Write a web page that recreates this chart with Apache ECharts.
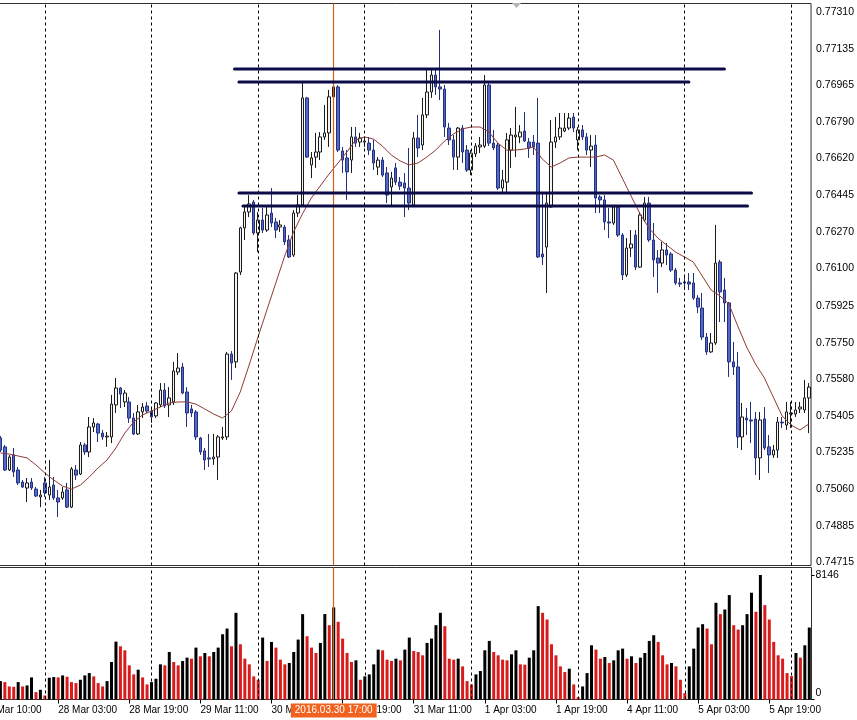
<!DOCTYPE html>
<html><head><meta charset="utf-8">
<script src="https://cdn.jsdelivr.net/npm/echarts@6/dist/echarts.min.js"></script>
<style>html,body{margin:0;padding:0;background:#fff;overflow:hidden;width:857px;height:720px;position:relative}
#c{position:absolute;left:-30px;top:0;width:887px;height:720px}</style>
</head><body><div id="c"></div>
<script>
// ---- sessions (trading days, first/last hour of the H1 bars shown) ----
const sessions = [
  ['2016.03.25', 10, 23], ['2016.03.28', 0, 23], ['2016.03.29', 0, 23],
  ['2016.03.30', 0, 23], ['2016.03.31', 0, 23], ['2016.04.01', 0, 23],
  ['2016.04.04', 0, 23], ['2016.04.05', 0, 23], ['2016.04.06', 0, 4]
];
const firstBarTime = '2016.03.25 14:00';
const timeLabels = ['2016.03.25 10:00','2016.03.28 03:00','2016.03.28 19:00','2016.03.29 11:00',
  '2016.03.30 03:00','2016.03.30 19:00','2016.03.31 11:00','2016.04.01 03:00','2016.04.01 19:00',
  '2016.04.04 11:00','2016.04.05 03:00','2016.04.05 19:00'];
const crosshairTime = '2016.03.30 17:00';
const priceTicks = [0.77310,0.77135,0.76965,0.76790,0.76620,0.76445,0.76270,0.76100,
  0.75925,0.75750,0.75580,0.75405,0.75235,0.75060,0.74885,0.74715];
const volumeTicks = [0, 8146];

// ---- candles: [open, close, low, high] ----
const ohlc = [
[0.75301,0.75244,0.75235,0.75310],[0.75259,0.75150,0.75145,0.75268],[0.75150,0.75211,0.75145,0.75221],
[0.75221,0.75141,0.75117,0.75254],[0.75150,0.75089,0.75079,0.75164],[0.75093,0.75070,0.75065,0.75103],
[0.75065,0.75089,0.74999,0.75112],[0.75093,0.75065,0.75056,0.75112],[0.75060,0.75027,0.75023,0.75070],
[0.75023,0.75032,0.74975,0.75056],[0.75089,0.75042,0.75023,0.75117],[0.75032,0.75070,0.75009,0.75197],
[0.75079,0.75018,0.75009,0.75117],[0.75018,0.74999,0.74928,0.75056],[0.75018,0.75046,0.75009,0.75070],
[0.75056,0.74975,0.74970,0.75089],[0.74975,0.75155,0.74970,0.75164],[0.75150,0.75126,0.75103,0.75173],
[0.75131,0.75268,0.75126,0.75282],[0.75268,0.75235,0.75221,0.75277],[0.75235,0.75353,0.75211,0.75400],
[0.75353,0.75372,0.75329,0.75395],[0.75367,0.75324,0.75282,0.75372],[0.75324,0.75306,0.75292,0.75339],
[0.75306,0.75310,0.75259,0.75329],[0.75306,0.75461,0.75277,0.75504],[0.75457,0.75537,0.75419,0.75584],
[0.75537,0.75508,0.75442,0.75541],[0.75471,0.75513,0.75447,0.75527],[0.75471,0.75395,0.75372,0.75494],
[0.75395,0.75320,0.75315,0.75419],[0.75320,0.75424,0.75315,0.75457],[0.75424,0.75447,0.75395,0.75466],
[0.75452,0.75428,0.75419,0.75471],[0.75428,0.75400,0.75372,0.75447],[0.75405,0.75466,0.75395,0.75471],
[0.75457,0.75527,0.75447,0.75560],[0.75527,0.75452,0.75442,0.75560],[0.75457,0.75490,0.75400,0.75541],
[0.75471,0.75617,0.75457,0.75660],[0.75612,0.75631,0.75598,0.75702],[0.75636,0.75513,0.75508,0.75655],
[0.75518,0.75419,0.75353,0.75541],[0.75438,0.75419,0.75400,0.75457],[0.75424,0.75306,0.75292,0.75433],
[0.75301,0.75235,0.75221,0.75306],[0.75240,0.75197,0.75150,0.75254],[0.75207,0.75202,0.75164,0.75320],
[0.75202,0.75211,0.75174,0.75320],[0.75211,0.75306,0.75103,0.75315],[0.75301,0.75306,0.75292,0.75353],
[0.75306,0.75697,0.75292,0.75707],[0.75697,0.75655,0.75575,0.75711],[0.75660,0.76079,0.75631,0.76084],
[0.76084,0.76292,0.76070,0.76297],[0.76292,0.76367,0.76235,0.76391],[0.76367,0.76405,0.76343,0.76447],
[0.76414,0.76268,0.76258,0.76424],[0.76268,0.76329,0.76178,0.76367],[0.76329,0.76282,0.76268,0.76386],
[0.76282,0.76353,0.76273,0.76391],[0.76362,0.76315,0.76296,0.76480],[0.76320,0.76282,0.76244,0.76339],
[0.76296,0.76306,0.76273,0.76329],[0.76296,0.76226,0.76211,0.76306],[0.76235,0.76155,0.76150,0.76258],
[0.76164,0.76362,0.76155,0.76376],[0.76362,0.76400,0.76343,0.76447],[0.76400,0.76905,0.76391,0.76975],
[0.76905,0.76626,0.76622,0.76910],[0.76589,0.76622,0.76527,0.76650],[0.76626,0.76650,0.76575,0.76740],
[0.76650,0.76721,0.76612,0.76744],[0.76721,0.76740,0.76707,0.76872],[0.76740,0.76910,0.76674,0.76943],
[0.76910,0.76957,0.76895,0.77084],[0.76957,0.76659,0.76650,0.76966],[0.76655,0.76612,0.76551,0.76674],
[0.76622,0.76556,0.76424,0.76659],[0.76612,0.76721,0.76551,0.76768],[0.76721,0.76692,0.76674,0.76768],
[0.76697,0.76716,0.76674,0.76740],[0.76697,0.76702,0.76674,0.76721],[0.76692,0.76659,0.76636,0.76721],
[0.76659,0.76598,0.76565,0.76707],[0.76579,0.76612,0.76541,0.76626],[0.76612,0.76541,0.76532,0.76626],
[0.76551,0.76447,0.76409,0.76579],[0.76485,0.76527,0.76391,0.76556],[0.76575,0.76508,0.76494,0.76598],
[0.76508,0.76489,0.76471,0.76532],[0.76504,0.76480,0.76343,0.76551],[0.76480,0.76409,0.76376,0.76669],
[0.76400,0.76716,0.76391,0.76744],[0.76716,0.76669,0.76626,0.76825],[0.76683,0.76825,0.76659,0.76905],
[0.76825,0.76933,0.76810,0.77046],[0.76933,0.77013,0.76905,0.77037],[0.77013,0.76957,0.76919,0.77037],
[0.76957,0.76947,0.76895,0.77226],[0.76947,0.76768,0.76721,0.76966],[0.76763,0.76707,0.76683,0.76787],
[0.76707,0.76626,0.76565,0.76730],[0.76626,0.76763,0.76565,0.76768],[0.76763,0.76650,0.76598,0.76777],
[0.76659,0.76565,0.76556,0.76683],[0.76565,0.76645,0.76541,0.76659],[0.76641,0.76678,0.76626,0.76692],
[0.76674,0.76683,0.76645,0.76721],[0.76678,0.76966,0.76669,0.77013],[0.76966,0.76692,0.76678,0.76975],
[0.76692,0.76669,0.76659,0.76754],[0.76683,0.76480,0.76471,0.76692],[0.76480,0.76518,0.76461,0.76565],
[0.76508,0.76707,0.76461,0.76740],[0.76659,0.76730,0.76575,0.76763],[0.76721,0.76730,0.76626,0.76863],
[0.76721,0.76744,0.76692,0.76777],[0.76749,0.76702,0.76697,0.76839],[0.76697,0.76669,0.76622,0.76716],
[0.76697,0.76674,0.76636,0.76730],[0.76692,0.76155,0.76150,0.76905],[0.76169,0.76155,0.76117,0.76457],
[0.76202,0.76409,0.75985,0.76461],[0.76391,0.76697,0.76386,0.76801],[0.76697,0.76721,0.76669,0.76815],
[0.76721,0.76763,0.76707,0.76834],[0.76749,0.76763,0.76744,0.76834],[0.76763,0.76810,0.76754,0.76834],
[0.76815,0.76763,0.76744,0.76834],[0.76707,0.76754,0.76659,0.76768],[0.76754,0.76721,0.76707,0.76777],
[0.76721,0.76659,0.76636,0.76740],[0.76659,0.76678,0.76579,0.76730],[0.76683,0.76433,0.76362,0.76730],
[0.76438,0.76424,0.76362,0.76447],[0.76424,0.76320,0.76282,0.76447],[0.76320,0.76315,0.76244,0.76386],
[0.76315,0.76391,0.76306,0.76400],[0.76391,0.76258,0.76249,0.76400],[0.76258,0.76070,0.76046,0.76268],
[0.76070,0.76197,0.76060,0.76244],[0.76197,0.76216,0.76155,0.76282],[0.76258,0.76107,0.76093,0.76282],
[0.76107,0.76353,0.76103,0.76367],[0.76329,0.76409,0.76320,0.76438],[0.76409,0.76235,0.76226,0.76438],
[0.76235,0.76141,0.76060,0.76315],[0.76150,0.76126,0.75985,0.76188],[0.76126,0.76188,0.76107,0.76226],
[0.76188,0.76164,0.76117,0.76221],[0.76169,0.76093,0.76084,0.76178],[0.76093,0.76032,0.76023,0.76103],
[0.76032,0.76027,0.76013,0.76056],[0.76037,0.76032,0.75999,0.76070],[0.76037,0.76027,0.75999,0.76079],
[0.76032,0.75961,0.75952,0.76079],[0.75961,0.75919,0.75890,0.75975],[0.75914,0.75777,0.75763,0.75985],
[0.75777,0.75707,0.75693,0.75796],[0.75707,0.75749,0.75702,0.75796],[0.75749,0.76126,0.75740,0.76306],
[0.76131,0.75990,0.75848,0.76141],[0.75999,0.75938,0.75848,0.76056],[0.75938,0.75660,0.75589,0.75942],
[0.75660,0.75636,0.75598,0.75754],[0.75636,0.75306,0.75254,0.75707],[0.75306,0.75400,0.75244,0.75466],
[0.75395,0.75386,0.75315,0.75442],[0.75386,0.75381,0.75277,0.75471],[0.75391,0.75207,0.75126,0.75424],
[0.75207,0.75386,0.75103,0.75424],[0.75391,0.75254,0.75244,0.75447],[0.75259,0.75221,0.75136,0.75315],
[0.75221,0.75244,0.75207,0.75268],[0.75244,0.75376,0.75207,0.75400],[0.75376,0.75372,0.75348,0.75400],
[0.75362,0.75424,0.75339,0.75471],[0.75414,0.75419,0.75348,0.75471],[0.75414,0.75433,0.75400,0.75471],
[0.75438,0.75447,0.75419,0.75471],[0.75433,0.75490,0.75419,0.75575],[0.75490,0.75541,0.75324,0.75560]
];

// ---- moving average, read at every second bar (bars 0,2,4,...) ----
const maEveryOtherBar = [
0.75230,0.75225,0.75216,0.75207,0.75174,0.75136,0.75103,0.75074,0.75060,0.75079,
0.75117,0.75160,0.75197,0.75254,0.75324,0.75376,0.75410,0.75428,0.75447,0.75466,
0.75471,0.75471,0.75461,0.75438,0.75414,0.75395,0.75428,0.75518,0.75645,0.75777,
0.75905,0.76032,0.76159,0.76273,0.76358,0.76433,0.76490,0.76546,0.76598,0.76650,
0.76707,0.76721,0.76711,0.76678,0.76636,0.76608,0.76589,0.76598,0.76626,0.76659,
0.76702,0.76735,0.76759,0.76768,0.76768,0.76744,0.76692,0.76659,0.76659,0.76664,
0.76674,0.76617,0.76579,0.76598,0.76622,0.76626,0.76626,0.76626,0.76636,0.76612,
0.76527,0.76442,0.76358,0.76292,0.76244,0.76211,0.76178,0.76155,0.76131,0.76065,
0.75999,0.75971,0.75933,0.75829,0.75730,0.75650,0.75584,0.75494,0.75405,0.75362,
0.75339,0.75367
];

// ---- tick volume ----
const volumes = [
1205,1139,854,832,1140,854,920,1445,482,635,
263,1424,1467,1445,1577,1489,1139,1073,1292,1577,
1730,1511,1073,854,1205,2453,3789,3482,3219,2234,
1643,1949,1445,986,1139,1358,2300,2234,3110,2453,
2234,2519,2738,2672,3395,2825,3044,2825,3110,3395,
4271,4643,3482,5672,3614,2672,2300,1511,1292,4052,
2519,3767,3395,2606,2300,2387,3110,3920,5585,4139,
3395,3044,3701,5590,4862,6023,5081,3986,3044,2453,
2562,1292,1511,1643,2300,3263,3219,2606,2519,2672,
2562,3263,4052,3176,3110,2891,3701,3986,4862,5672,
4796,2672,2606,2672,2168,1205,986,1643,1862,3219,
3833,3110,2891,2606,2562,2957,3219,2300,2278,2738,
3219,6110,5672,5234,3614,2891,2168,1796,2015,986,
153,854,1730,3548,3263,2672,2781,2387,2562,3219,
3329,2672,2825,2387,2738,3044,3833,4205,3767,2891,
2300,2387,2168,1292,416,2168,3329,4709,4928,4643,
3614,6329,5585,5891,6833,4862,4577,4862,5585,6986,
5738,8146,6176,5234,3767,2891,2672,1730,1533,3044,
2738,3548,4709
];

// ---- trend lines drawn on the chart: [from (time index), to (time index), price] ----
const trendLines = [
  [56.7, 167.0, 0.77042],
  [57.7, 159.0, 0.76980],
  [57.7, 173.1, 0.76457],
  [58.6, 172.2, 0.76395]
];

// ---------------- build ----------------
const times = [];
sessions.forEach(([d, h0, h1]) => { for (let h = h0; h <= h1; h++) times.push(d + ' ' + String(h).padStart(2, '0') + ':00'); });
const lead = times.indexOf(firstBarTime);
const candleData = Array.from({length: lead}, () => ['-','-','-','-']).concat(ohlc);
const maData = Array.from({length: lead}, () => null).concat(ohlc.map((_, i) => i % 2 === 0 ? maEveryOtherBar[i / 2] : null));
const volData = Array.from({length: lead}, () => '-').concat(volumes);
const labelIdx = new Set(timeLabels.map(t => times.indexOf(t)));
const sepIdx = times.map((t, i) => t.endsWith(' 00:00') ? i : -1).filter(i => i >= 0);
const crossIdx = times.indexOf(crosshairTime);
const months = {'03': 'Mar', '04': 'Apr'};
const fmtTime = t => { const [d, hm] = t.split(' '); const p = d.split('.'); return (+p[2]) + ' ' + months[p[1]] + ' ' + hm; };

const FONT = 'Liberation Sans, Arial, sans-serif';
const gridLeft = 10.4, gridWidth = 831.1;   // chart canvas is offset 30px to the left of the page
const crossColor = '#d0601a';
const markLines = {
  symbol: 'none', silent: true, label: {show: false},
  lineStyle: {color: '#000', type: [3, 3], width: 1},
  data: sepIdx.map(i => ({xAxis: i})).concat([{xAxis: crossIdx, lineStyle: {color: crossColor, type: 'solid', width: 1.2, opacity: 1}}])
};

const chart = echarts.init(document.getElementById('c'), null, {renderer: 'canvas'});
chart.setOption({
  animation: false,
  backgroundColor: '#ffffff',
  tooltip: {show: false},
  axisPointer: {triggerOn: 'none'},
  grid: [
    {left: gridLeft, width: gridWidth, top: 3.5, height: 562, show: true, borderColor: '#303030', borderWidth: 1},
    {left: gridLeft, width: gridWidth, top: 567.5, height: 132, show: true, borderColor: '#303030', borderWidth: 1}
  ],
  xAxis: [
    {type: 'category', gridIndex: 0, data: times, boundaryGap: true,
     axisLine: {show: false}, axisTick: {show: false}, axisLabel: {show: false}, splitLine: {show: false}},
    {type: 'category', gridIndex: 1, data: times, boundaryGap: true,
     axisLine: {show: false}, splitLine: {show: false},
     axisTick: {show: true, alignWithLabel: true, length: 4, interval: i => labelIdx.has(i), lineStyle: {color: '#000'}},
     axisLabel: {interval: i => labelIdx.has(i), formatter: v => fmtTime(v), align: 'left', margin: 6,
       color: '#000', fontSize: 10, fontFamily: FONT, hideOverlap: false},
     axisPointer: {show: true, value: crossIdx, status: 'show', type: 'line', triggerTooltip: false,
       lineStyle: {color: crossColor, width: 1, opacity: 0},
       label: {show: true, formatter: () => crosshairTime, backgroundColor: '#f0621e', color: '#fff',
         fontSize: 10, fontFamily: FONT, padding: [2, 4], margin: 4, borderRadius: 0, shadowBlur: 0}}},
    {type: 'value', gridIndex: 0, min: -0.5, max: times.length - 0.5, show: false}
  ],
  yAxis: [
    {type: 'value', gridIndex: 0, position: 'right', min: 0.746995, max: 0.773505,
     splitLine: {show: false}, axisLine: {show: false},
     axisTick: {show: true, length: 3, customValues: priceTicks, lineStyle: {color: '#000'}},
     axisLabel: {customValues: priceTicks, formatter: v => v.toFixed(5), color: '#000', fontSize: 10.5, fontFamily: FONT, margin: 5}},
    {type: 'value', gridIndex: 1, position: 'right', min: 0, max: 8637,
     splitLine: {show: false}, axisLine: {show: false},
     axisTick: {show: true, length: 3, customValues: volumeTicks, lineStyle: {color: '#000'}},
     axisLabel: {customValues: volumeTicks, formatter: v => v === 0 ? '{z|0}' : String(v),
       rich: {z: {padding: [0, 0, 12, 0], fontSize: 10.5, fontFamily: FONT, color: '#000'}},
       color: '#000', fontSize: 10.5, fontFamily: FONT, margin: 4}}
  ],
  series: [
    {type: 'candlestick', name: 'AUDUSD,H1', xAxisIndex: 0, yAxisIndex: 0, data: candleData, barWidth: 3,
     itemStyle: {color: '#f4f4f4', color0: '#5568c8', borderColor: '#1a1a1a', borderColor0: '#23307e', borderWidth: 1},
     markLine: markLines, z: 3},
    {type: 'line', name: 'MA', xAxisIndex: 0, yAxisIndex: 0, data: maData, connectNulls: true, symbol: 'none',
     lineStyle: {color: '#8c3a34', width: 1}, z: 4},
    ...trendLines.map(([a, b, p]) => ({
      type: 'line', xAxisIndex: 2, yAxisIndex: 0, data: [[a, p], [b, p]], symbol: 'none', silent: true,
      lineStyle: {color: '#0b0b48', width: 3, cap: 'round'}, z: 5
    })),
    {type: 'bar', name: 'Volumes', xAxisIndex: 1, yAxisIndex: 1, data: volData, barWidth: 3,
     itemStyle: {color: p => {
       const i = p.dataIndex - lead;
       return (i === 0 || volumes[i] > volumes[i - 1]) ? '#000000' : '#d81c1c';
     }},
     markLine: markLines, z: 3}
  ],
  graphic: [
    {type: 'polygon', shape: {points: [[542, 3], [551, 3], [546.5, 8]]}, style: {fill: '#b4b4b4'}, silent: true}
  ]
});
</script>
</body></html>
